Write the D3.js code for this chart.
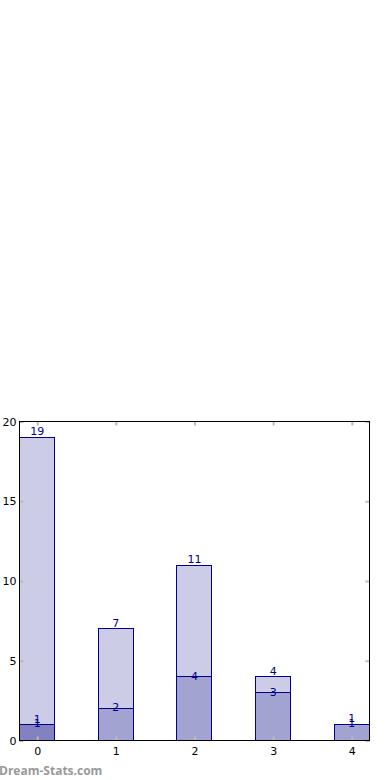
<!DOCTYPE html>
<html>
<head>
<meta charset="utf-8">
<script src="https://cdn.jsdelivr.net/npm/d3@7"></script>
<style>
  body { margin: 0; background: #fff; }
  svg { display: block; font-family: "DejaVu Sans", sans-serif; }
</style>
</head>
<body>
<div id="chart"></div>
<script>
const categories = [0, 1, 2, 3, 4];
const seriesA = [19, 7, 11, 4, 1];
const seriesB = [1, 2, 4, 3, 1];
const seriesC = [1, 0, 0, 0, 0];
const yTicks = [0, 5, 10, 15, 20];

const w = 390, h = 780;
const padLeft = 19.5, padRight = 369.5, padTop = 421.5, padBottom = 740.5;
const barW = 0.45;

const svg = d3.select('#chart').append('svg')
    .attr('width', w)
    .attr('height', h);

const x = d3.scaleLinear()
    .domain([-barW / 2, categories.length - 1 + barW / 2])
    .range([padLeft, padRight]);

const y = d3.scaleLinear()
    .domain([0, 20])
    .range([padBottom, padTop]);

// overlapping translucent bars, drawn in order
const layers = [seriesA, seriesB, seriesC];
layers.forEach(vals => {
    svg.append('g').selectAll('rect')
        .data(categories.filter((c, i) => vals[i] > 0))
        .enter()
        .append('rect')
        .attr('x', c => Math.round(x(c - barW / 2) - 0.5) + 0.5)
        .attr('y', c => Math.round(y(vals[c]) - 0.5) + 0.5)
        .attr('width', c => Math.round(x(c + barW / 2) - x(c - barW / 2)))
        .attr('height', c => padBottom - (Math.round(y(vals[c]) - 0.5) + 0.5))
        .attr('fill', 'rgba(0,0,128,0.2)')
        .attr('stroke', '#00008b')
        .attr('stroke-width', 1);
});

// value labels
const labelOffset = [6, 1, 5];
layers.forEach((vals, k) => {
    svg.append('g').selectAll('text')
        .data(categories.filter((c, i) => vals[i] > 0))
        .enter()
        .append('text')
        .attr('x', c => x(c))
        .attr('y', c => y(vals[c]) - labelOffset[k])
        .attr('dy', '0.35em')
        .attr('text-anchor', 'middle')
        .attr('font-size', 11)
        .attr('fill', '#00008b')
        .text(c => vals[c]);
});

// axes (ticks pointing inwards)
const xAxis = d3.axisBottom(x).tickValues(categories).tickFormat(d3.format('d'))
    .tickSizeInner(-4).tickSizeOuter(0).tickPadding(7);
const yAxis = d3.axisLeft(y).tickValues(yTicks).tickFormat(d3.format('d'))
    .tickSizeInner(-4).tickSizeOuter(0).tickPadding(3);

svg.append('g')
    .attr('transform', 'translate(0,' + padBottom + ')')
    .call(xAxis);
svg.append('g')
    .attr('transform', 'translate(' + padLeft + ',0)')
    .call(yAxis);

svg.append('g')
    .attr('transform', 'translate(0,' + padTop + ')')
    .call(d3.axisTop(x).tickValues(categories).tickSizeInner(-4).tickSizeOuter(0).tickFormat(''));
svg.append('g')
    .attr('transform', 'translate(' + padRight + ',0)')
    .call(d3.axisRight(y).tickValues(yTicks).tickSizeInner(-4).tickSizeOuter(0).tickFormat(''));

svg.selectAll('.domain').remove();
svg.selectAll('.tick line').attr('stroke', '#bbb').attr('stroke-width', 2);
svg.selectAll('.tick text').attr('font-size', 11).attr('fill', '#000')
    .attr('font-family', '"DejaVu Sans", sans-serif');

// frame
svg.append('rect')
    .attr('x', padLeft)
    .attr('y', padTop)
    .attr('width', padRight - padLeft)
    .attr('height', padBottom - padTop)
    .attr('fill', 'none')
    .attr('stroke', '#000')
    .attr('stroke-width', 1);

// watermark
svg.append('text')
    .attr('x', -1)
    .attr('y', 775)
    .attr('font-family', '"Open Sans", sans-serif')
    .attr('font-size', 12)
    .attr('font-weight', 'bold')
    .attr('fill', '#999')
    .text('Dream-Stats.com');
</script>
</body>
</html>
